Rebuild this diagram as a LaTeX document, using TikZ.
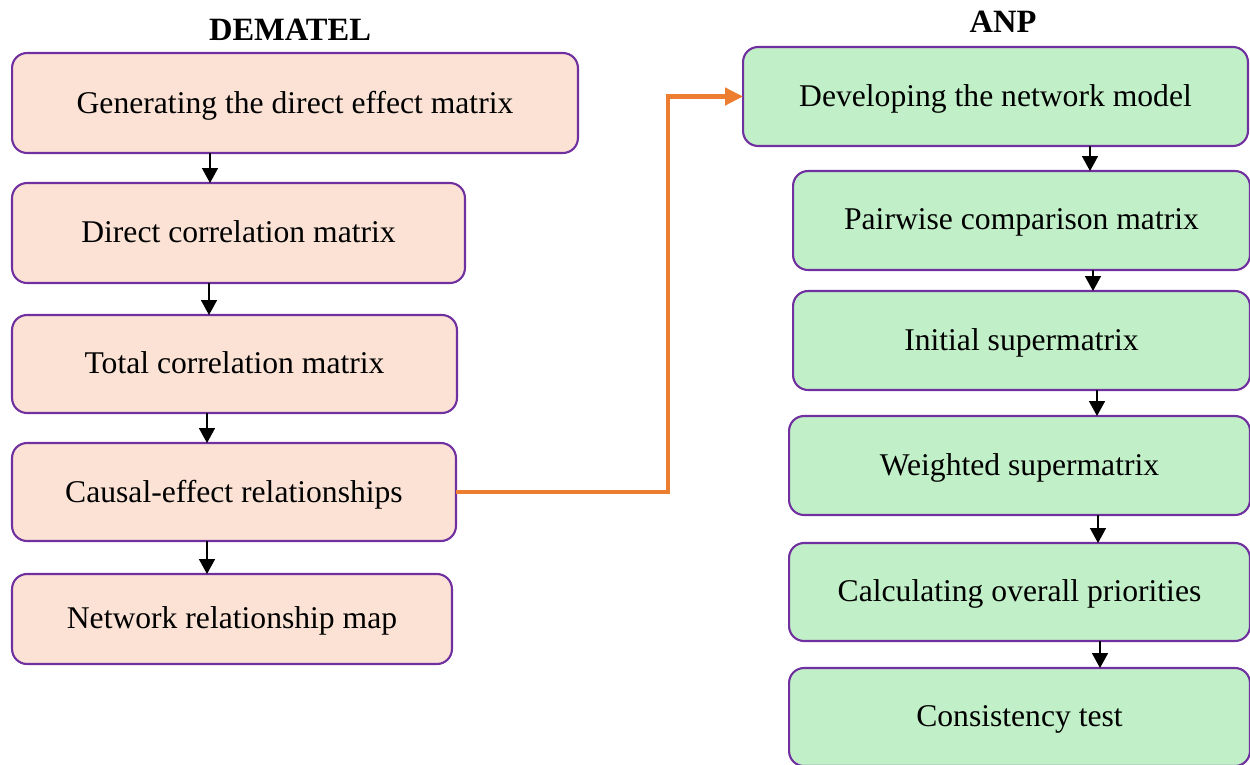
\documentclass[tikz,border=0pt]{standalone}
\usepackage{fontspec}
\setmainfont{Liberation Serif}
\usetikzlibrary{arrows.meta}
\definecolor{boxline}{HTML}{7030A0}
\definecolor{demfill}{HTML}{FBE2D5}
\definecolor{anpfill}{HTML}{C1F0C8}
\definecolor{linkorange}{HTML}{ED7D31}

\begin{document}
\begin{tikzpicture}[x=0.02cm, y=-0.02cm,
  every node/.style={outer sep=0pt, inner sep=0pt, font=\fontsize{18}{21}\selectfont},
  stage/.style={draw=boxline, line width=1.2pt, rounded corners=0.3cm, text depth=0.25ex},
  dem/.style={stage, fill=demfill},
  anp/.style={stage, fill=anpfill},
  title/.style={font=\fontsize{18.5}{21}\selectfont\bfseries},
  down/.style={-{Triangle[width=0.32cm,length=0.3cm]}, line width=0.9pt}]
\useasboundingbox (0,0) rectangle (1250,764);
\begin{scope}
\clip (0,0) rectangle (1250,764);

\node[title] (tdem) at (290,30) {DEMATEL};
\node[title] (tanp) at (1003,22) {ANP};

\node[dem, minimum width=11.32cm, minimum height=2cm] (l1) at (295,103) {Generating the direct effect matrix};
\node[dem, minimum width=9.06cm, minimum height=2cm] (l2) at (238.5,233) {Direct correlation matrix};
\node[dem, minimum width=8.9cm, minimum height=1.96cm] (l3) at (234.5,364) {Total correlation matrix};
\node[dem, minimum width=8.88cm, minimum height=1.96cm] (l4) at (234,492) {Causal-effect relationships};
\node[dem, minimum width=8.8cm, minimum height=1.8cm] (l5) at (232,619) {Network relationship map};

\node[anp, minimum width=10.1cm, minimum height=1.98cm] (r1) at (995.5,96.5) {Developing the network model};
\node[anp, minimum width=9.14cm, minimum height=1.98cm] (r2) at (1021.5,220.5) {Pairwise comparison matrix};
\node[anp, minimum width=9.14cm, minimum height=1.98cm] (r3) at (1021.5,340.5) {Initial supermatrix};
\node[anp, minimum width=9.22cm, minimum height=1.98cm] (r4) at (1019.5,465.5) {Weighted supermatrix};
\node[anp, minimum width=9.22cm, minimum height=1.96cm] (r5) at (1019.5,592) {Calculating overall priorities};
\node[anp, minimum width=9.22cm, minimum height=1.96cm] (r6) at (1019.5,717) {Consistency test};

\coordinate (a1) at (210,0);
\coordinate (a2) at (209,0);
\coordinate (a3) at (207,0);
\coordinate (a4) at (207,0);
\draw[down] (l1.south -| a1) -- (l2.north -| a1);
\draw[down] (l2.south -| a2) -- (l3.north -| a2);
\draw[down] (l3.south -| a3) -- (l4.north -| a3);
\draw[down] (l4.south -| a4) -- (l5.north -| a4);

\coordinate (b1) at (1090,0);
\coordinate (b2) at (1093,0);
\coordinate (b3) at (1097,0);
\coordinate (b4) at (1098,0);
\coordinate (b5) at (1100,0);
\draw[down] (r1.south -| b1) -- (r2.north -| b1);
\draw[down] (r2.south -| b2) -- (r3.north -| b2);
\draw[down] (r3.south -| b3) -- (r4.north -| b3);
\draw[down] (r4.south -| b4) -- (r5.north -| b4);
\draw[down] (r5.south -| b5) -- (r6.north -| b5);

\coordinate (bend) at (668,0);
\draw[linkorange, line width=2.4pt, -{Triangle[width=0.34cm,length=0.36cm]}]
  (l4.east) -- (l4.east -| bend) -- (r1.west -| bend) -- (r1.west);
\end{scope}
\end{tikzpicture}
\end{document}
